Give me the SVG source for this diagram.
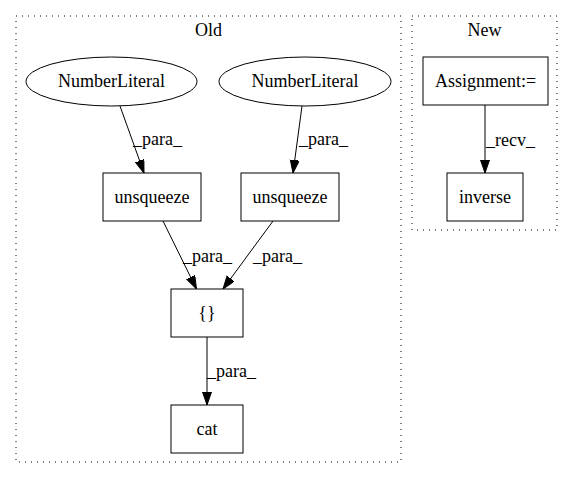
<svg xmlns="http://www.w3.org/2000/svg" width="575" height="480" viewBox="0 0 575 480">
<style>
text{font-family:"Liberation Serif","Times New Roman",serif;font-size:18px;fill:#000}
.c{text-anchor:middle}
.cl{fill:none;stroke:#000;stroke-width:1;stroke-dasharray:1,5}
.n{fill:#fff;stroke:#000;stroke-width:1}
.e{fill:none;stroke:#000;stroke-width:1}
</style>
<defs>
<marker id="ah" markerUnits="userSpaceOnUse" markerWidth="14" markerHeight="10" refX="13" refY="4.5" orient="auto">
<polygon points="0,0 13,4.5 0,9" fill="#000" stroke="#000" stroke-width="1"/>
</marker>
</defs>
<rect width="575" height="480" fill="#fff"/>
<g id="cluster_old">
<rect class="cl" x="16" y="16" width="385" height="446"/>
<text class="c" x="208.5" y="36">Old</text>
</g>
<g id="cluster_new">
<rect class="cl" x="412" y="16" width="145" height="214"/>
<text class="c" x="484.5" y="36">New</text>
</g>
<g id="edges">
<path class="e" d="M120,106 L144,173" marker-end="url(#ah)"/>
<text x="133" y="145">_para_</text>
<path class="e" d="M302,106 L293,173" marker-end="url(#ah)"/>
<text x="299" y="145">_para_</text>
<path class="e" d="M163,221 L196.5,289" marker-end="url(#ah)"/>
<text x="183" y="262">_para_</text>
<path class="e" d="M273,221 L223,289" marker-end="url(#ah)"/>
<text x="253" y="262">_para_</text>
<path class="e" d="M207,337 L207,405" marker-end="url(#ah)"/>
<text x="207" y="377">_para_</text>
<path class="e" d="M485,105 L485,173" marker-end="url(#ah)"/>
<text x="486" y="146">_recv_</text>
</g>
<g id="numlit1">
<ellipse class="n" cx="111.5" cy="81.5" rx="85.5" ry="24.5"/>
<text class="c" x="111.5" y="87">NumberLiteral</text>
</g>
<g id="numlit2">
<ellipse class="n" cx="305" cy="81.5" rx="86" ry="24.5"/>
<text class="c" x="305" y="87">NumberLiteral</text>
</g>
<g id="unsqueeze1">
<rect class="n" x="103" y="173" width="98" height="48"/>
<text class="c" x="152" y="202.5">unsqueeze</text>
</g>
<g id="unsqueeze2">
<rect class="n" x="241" y="173" width="98" height="48"/>
<text class="c" x="290" y="202.5">unsqueeze</text>
</g>
<g id="braces">
<rect class="n" x="171" y="289" width="72" height="48"/>
<text class="c" x="207" y="318.5">{}</text>
</g>
<g id="cat">
<rect class="n" x="171" y="405" width="72" height="48"/>
<text class="c" x="207" y="434.5">cat</text>
</g>
<g id="assignment">
<rect class="n" x="423" y="57" width="125" height="48"/>
<text class="c" x="485.5" y="86.5">Assignment:=</text>
</g>
<g id="inverse">
<rect class="n" x="447" y="173" width="76" height="48"/>
<text class="c" x="485" y="202.5">inverse</text>
</g>
</svg>
